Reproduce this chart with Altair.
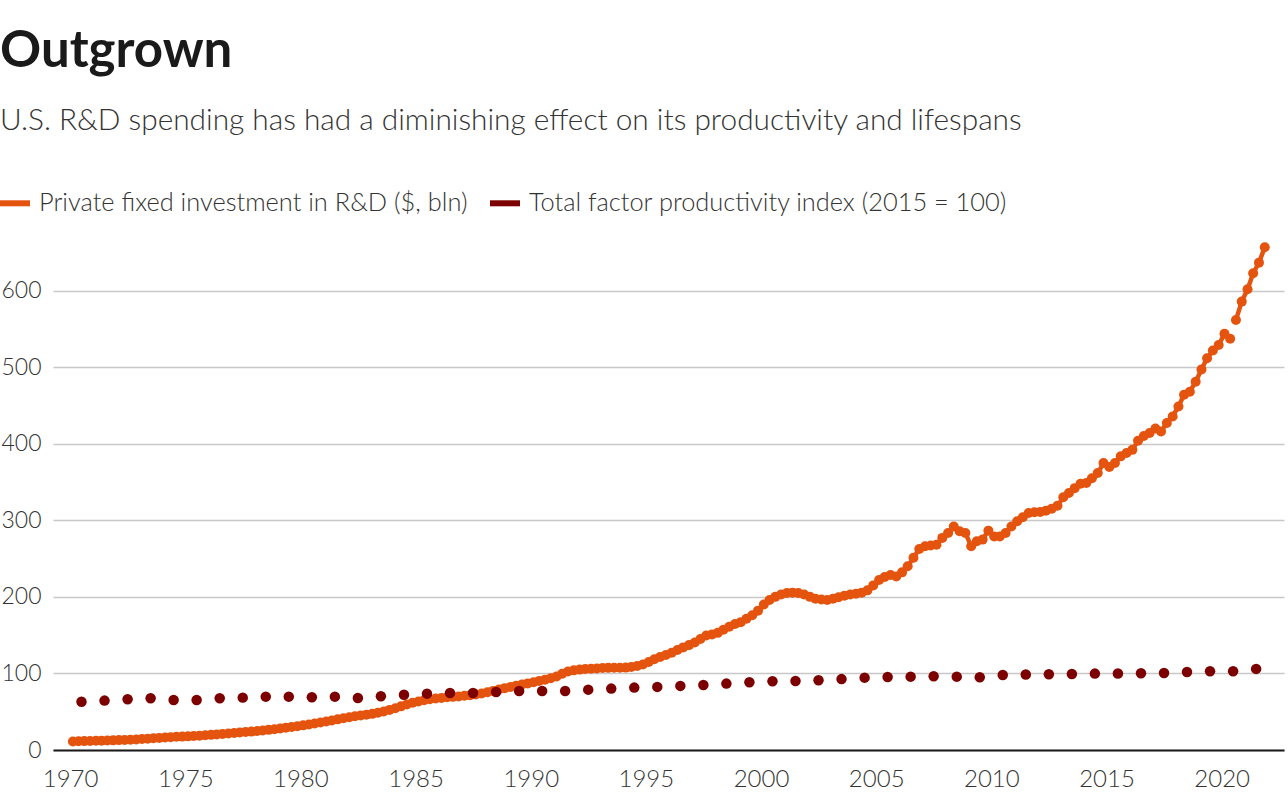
import altair as alt
import pandas as pd

# ---- data ----
rd_years = list(range(1970, 2022))
# private fixed investment in R&D, $ bln, quarterly Q1..Q4 for each year
rd_values = [
    11.2, 11.4, 11.6, 11.8,    # 1970
    12.0, 12.2, 12.4, 12.6,    # 1971
    12.9, 13.2, 13.5, 13.8,    # 1972
    14.3, 14.8, 15.3, 15.8,    # 1973
    16.3, 16.8, 17.2, 17.5,    # 1974
    17.8, 18.2, 18.7, 19.2,    # 1975
    19.8, 20.4, 21.0, 21.6,    # 1976
    22.2, 22.8, 23.4, 24.0,    # 1977
    24.7, 25.5, 26.3, 27.1,    # 1978
    28.0, 29.0, 30.0, 31.0,    # 1979
    32.2, 33.4, 34.6, 35.8,    # 1980
    37.2, 38.6, 40.0, 41.4,    # 1981
    42.8, 44.0, 45.2, 46.2,    # 1982
    47.2, 48.6, 50.2, 52.4,    # 1983
    54.6, 57.0, 59.4, 61.6,    # 1984
    63.4, 65.0, 66.2, 67.2,    # 1985
    68.0, 68.8, 69.4, 70.0,    # 1986
    70.8, 71.6, 72.6, 73.8,    # 1987
    75.4, 77.2, 79.0, 80.8,    # 1988
    82.4, 84.0, 85.6, 87.0,    # 1989
    88.6, 90.2, 91.8, 93.6,    # 1990
    96.0, 99.5, 102.5, 104.0,  # 1991
    105.0, 105.8, 106.2, 106.6,  # 1992
    107.0, 107.3, 107.5, 107.4,  # 1993
    107.6, 108.4, 109.6, 111.6,  # 1994
    115.0, 118.5, 121.5, 124.0,  # 1995
    127.0, 130.5, 134.0, 137.0,  # 1996
    140.5, 145.0, 149.5, 151.0,  # 1997
    153.0, 157.0, 161.0, 164.5,  # 1998
    167.0, 171.5, 176.0, 182.0,  # 1999
    190.0, 196.0, 200.0, 203.0,  # 2000
    205.0, 205.5, 205.0, 203.0,  # 2001
    200.0, 197.5, 196.5, 196.0,  # 2002
    197.5, 199.5, 201.5, 203.0,  # 2003
    204.0, 205.5, 208.5, 215.0,  # 2004
    222.0, 226.0, 228.5, 226.5,  # 2005
    232.0, 240.0, 251.0, 262.6,  # 2006
    266.0, 267.0, 268.0, 277.0,  # 2007
    283.5, 292.0, 285.7, 283.5,  # 2008
    266.0, 272.6, 274.8, 286.5,  # 2009
    279.0, 279.0, 283.5, 292.0,  # 2010
    298.7, 304.0, 309.6, 310.4,  # 2011
    311.0, 312.5, 315.0, 319.0,  # 2012
    330.0, 335.6, 342.0, 347.8,  # 2013
    348.7, 355.0, 361.7, 374.8,  # 2014
    369.6, 374.8, 383.5, 388.0,  # 2015
    392.0, 404.0, 410.0, 414.0,  # 2016
    420.0, 416.0, 427.0, 435.6,  # 2017
    448.7, 464.0, 468.0, 481.0,  # 2018
    497.0, 511.7, 521.7, 529.0,  # 2019
    543.5, 537.0, 561.7, 585.6,  # 2020
    601.7, 622.6, 636.5, 656.5,  # 2021
]
# the reference line is broken after 2020 Q2
rd_segment_break = (2020, 3)

tfp_years = list(range(1970, 2022))
tfp_values = [
    63.1, 64.5, 66.2, 67.5, 65.4, 65.4, 67.5, 68.4, 69.7, 69.7,   # 1970s
    68.8, 69.7, 68.0, 70.1, 72.1, 73.6, 74.5, 74.5, 75.8, 77.1,   # 1980s
    77.1, 77.1, 78.8, 80.2, 81.5, 82.4, 83.7, 85.0, 86.7, 88.5,   # 1990s
    89.8, 90.2, 91.1, 92.6, 94.5, 95.4, 95.8, 96.3, 95.8, 95.0,   # 2000s
    98.0, 98.5, 98.9, 99.3, 99.8, 100.0, 100.2, 100.6, 101.9, 102.8,  # 2010s
    102.8, 105.9,                                                  # 2020s
]

RD_NAME = "Private fixed investment in R&D ($, bln)"
TFP_NAME = "Total factor productivity index (2015 = 100)"
ORANGE = "#e5540f"
DARKRED = "#7d0000"

rows = []
i = 0
for y in rd_years:
    for q in range(1, 5):
        month = 3 * q - 1
        seg = 1 if (y, q) >= rd_segment_break else 0
        rows.append({"date": f"{y}-{month:02d}-15", "value": rd_values[i],
                     "series": RD_NAME, "seg": seg})
        i += 1
rd_df = pd.DataFrame(rows)
tfp_df = pd.DataFrame({
    "date": [f"{y}-07-01" for y in tfp_years],
    "value": tfp_values,
    "series": TFP_NAME,
})

FONT = "Lato"
TEXT = "#333333"

x_enc = alt.X(
    "date:T",
    scale=alt.Scale(type="utc",
                    domain=[alt.DateTime(year=1969, month=4, date=5, utc=True),
                            alt.DateTime(year=2022, month=9, date=16, utc=True)]),
    axis=alt.Axis(
        values=[alt.DateTime(year=y, month=1, date=1, utc=True) for y in range(1970, 2021, 5)],
        format="%Y", title=None, ticks=False, grid=False,
        domain=True, domainColor="#1a1a1a", domainWidth=2,
        labelFont=FONT, labelFontSize=24, labelFontWeight=300, labelColor=TEXT,
        labelPadding=17, labelFlush=False,
    ),
)
y_enc = alt.Y(
    "value:Q",
    scale=alt.Scale(domain=[0, 670], nice=False, zero=True),
    axis=alt.Axis(
        values=[0, 100, 200, 300, 400, 500, 600], title=None,
        ticks=False, domain=False, grid=True, gridColor="#c8c8c8", gridWidth=1.4,
        labelFont=FONT, labelFontSize=23, labelFontWeight=300, labelColor=TEXT,
        labelPadding=12, minExtent=53, maxExtent=53,
    ),
)
color_scale = alt.Scale(domain=[RD_NAME, TFP_NAME], range=[ORANGE, DARKRED])

legend = alt.Legend(
    orient="none", legendX=-56, legendY=-52, direction="horizontal", title=None,
    symbolType="stroke", symbolSize=900, symbolStrokeWidth=6,
    labelFont=FONT, labelFontSize=25.4, labelFontWeight=300, labelColor=TEXT,
    labelOffset=6, columnPadding=10, labelLimit=700,
)

line = alt.Chart(rd_df).mark_line(strokeWidth=4.5, strokeCap="round").encode(
    x=x_enc, y=y_enc,
    color=alt.Color("series:N", scale=color_scale, legend=legend),
    detail="seg:N",
)
rd_pts = alt.Chart(rd_df).mark_circle(size=100, opacity=1).encode(
    x=x_enc, y=y_enc,
    color=alt.Color("series:N", scale=color_scale, legend=None),
)
tfp_pts = alt.Chart(tfp_df).mark_circle(size=110, opacity=1).encode(
    x=x_enc, y=y_enc,
    color=alt.Color("series:N", scale=color_scale, legend=None),
)

chart = alt.layer(line, rd_pts, tfp_pts).properties(
    width=1231, height=513,
    background="white",
    autosize=alt.AutoSizeParams(type="none"),
    padding={"left": 53, "top": 237, "right": 4, "bottom": 50},
    title=alt.TitleParams(
        text="Outgrown",
        subtitle="U.S. R&D spending has had a diminishing effect on its productivity and lifespans",
        anchor="start", frame="group", dx=-53, offset=48,
        font=FONT, fontSize=51, fontWeight="bold", color="#1a1a1a",
        subtitleFont=FONT, subtitleFontSize=29.8, subtitleFontWeight=300,
        subtitleColor=TEXT, subtitlePadding=28.5,
    ),
).configure_view(stroke=None)

chart.save("out.html", embed_options={"renderer": "svg", "actions": False})
